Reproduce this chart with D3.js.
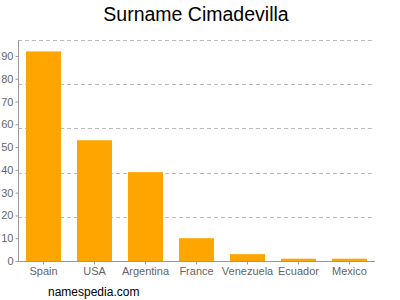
<!DOCTYPE html>
<html>
<head>
<meta charset="utf-8">
<script src="https://cdn.jsdelivr.net/npm/d3@7"></script>
<style>
  body { margin: 0; background: #fff; }
  svg { display: block; font-family: "Liberation Sans", Arial, sans-serif; }
</style>
</head>
<body>
<div id="chart"></div>
<script>
var countries = ["Spain", "USA", "Argentina", "France", "Venezuela", "Ecuador", "Mexico"];
var counts = [92, 53, 39, 10, 3, 1, 1];
var yTicks = [0, 10, 20, 30, 40, 50, 60, 70, 80, 90];

var W = 400, H = 300;
var plotLeft = 18, plotRight = 375, plotTop = 40, plotBottom = 261;
var yMax = 97;

var svg = d3.select("#chart").append("svg")
    .attr("width", W).attr("height", H);

var x = d3.scaleBand().domain(countries).range([plotLeft, plotRight])
    .paddingInner(0.314).paddingOuter(0.157);
var y = d3.scaleLinear().domain([0, yMax]).range([plotBottom, plotTop]);

// dashed grid, 5 even divisions
var grid = d3.range(1, 6).map(function(i) { return plotTop + (plotBottom - plotTop) * (5 - i) / 5; });
svg.selectAll("line.grid").data(grid).enter().append("line")
    .attr("class", "grid")
    .attr("x1", plotLeft).attr("x2", plotRight)
    .attr("y1", function(d) { return Math.round(d) + 0.5; })
    .attr("y2", function(d) { return Math.round(d) + 0.5; })
    .attr("stroke", "#bbb").attr("stroke-dasharray", "4,3");

// bars
svg.selectAll("rect.bar").data(countries).enter().append("rect")
    .attr("class", "bar")
    .attr("x", function(d) { return x(d); })
    .attr("width", x.bandwidth())
    .attr("y", function(d, i) { return y(counts[i]); })
    .attr("height", function(d, i) { return plotBottom - y(counts[i]); })
    .attr("fill", "#ffa500");

// y axis
var yAxis = svg.append("g")
    .attr("transform", "translate(" + (plotLeft + 0.5) + ",0)")
    .call(d3.axisLeft(y).tickValues(yTicks).tickSize(3).tickPadding(2));
yAxis.select(".domain").attr("d", "M0," + plotTop + "V" + plotBottom).attr("stroke", "#999");
yAxis.selectAll(".tick line").attr("stroke", "#999");
yAxis.selectAll(".tick text").attr("fill", "#666").style("font-size", "11px");

// x axis
var xAxis = svg.append("g")
    .attr("transform", "translate(0," + (plotBottom + 0.5) + ")")
    .call(d3.axisBottom(x).tickSize(3).tickPadding(3));
xAxis.select(".domain").attr("d", "M" + plotLeft + ",0H" + plotRight).attr("stroke", "#999");
xAxis.selectAll(".tick line").attr("stroke", "#999");
xAxis.selectAll(".tick text").attr("fill", "#666").style("font-size", "11px");

// title
svg.append("text").attr("x", 196).attr("y", 21)
    .attr("text-anchor", "middle")
    .style("font-size", "19.5px").attr("fill", "#000")
    .text("Surname Cimadevilla");

svg.append("text").attr("x", 48).attr("y", 296)
    .style("font-size", "12px").attr("fill", "#000")
    .text("namespedia.com");
</script>
</body>
</html>
